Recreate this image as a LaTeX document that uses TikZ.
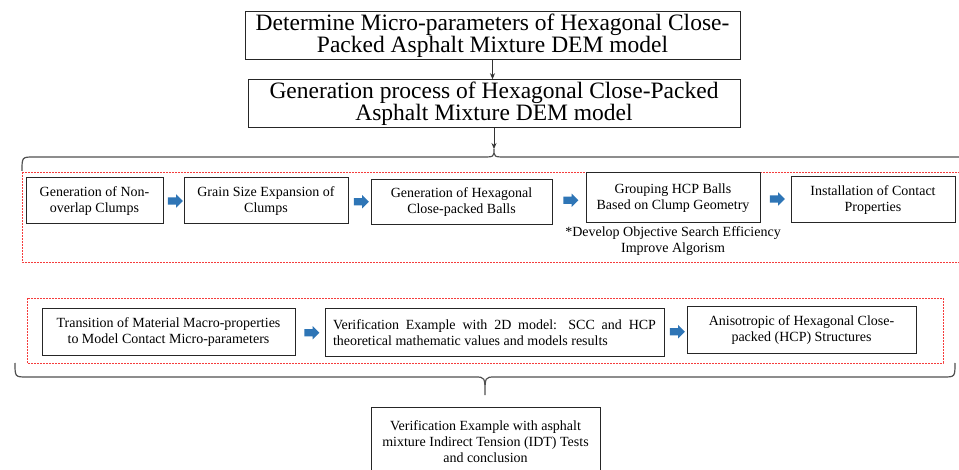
\documentclass[tikz,border=0pt]{standalone}
\usepackage{fontspec}
\setmainfont{Liberation Serif}
\usetikzlibrary{arrows.meta}
\usetikzlibrary{shapes.arrows}
\definecolor{flowblue}{RGB}{46,117,182}
\definecolor{linegray}{RGB}{80,80,80}
\definecolor{framered}{RGB}{245,60,60}
\tikzset{
  bigbox/.style={draw=black!85, line width=1pt, align=center, inner sep=2pt,
    font=\fontsize{23.5}{22}\selectfont},
  box/.style={draw=black!85, line width=1pt, align=center, inner sep=2pt,
    font=\fontsize{14}{16}\selectfont},
  sz/.style 2 args={minimum width=#1pt, minimum height=#2pt},
  blk/.style={single arrow, fill=flowblue, draw=none, minimum height=15pt,
    text width=0pt, text height=0pt, text depth=0pt,
    single arrow head extend=3pt, inner sep=3.5pt},
  reddash/.style={draw=framered, line width=0.9pt, dash pattern=on 1.8pt off 1.2pt},
  bracket/.style={draw=linegray, line width=1.2pt},
  flowline/.style={draw=black!80, line width=0.8pt, -{Stealth[length=6pt,width=5pt]}},
}
\begin{document}
\begin{tikzpicture}[x=1pt,y=-1pt]
  \clip (0,0) rectangle (959,470);
  % top boxes
  \node[bigbox, sz={495}{47}] (T1) at (492.5,35.5)
    {Determine Micro-parameters of Hexagonal Close-\\Packed Asphalt Mixture DEM model};
  \node[bigbox, sz={492}{47}] (T2) at (494,103.5)
    {Generation process of Hexagonal Close-Packed\\Asphalt Mixture DEM model};
  \coordinate (tip1) at (494,149);
  \draw[flowline] (T1.south) -- (T1.south |- T2.north);
  \draw[flowline] (T2.south) -- (tip1);
  % upper brace and frame
  \draw[bracket] (22,171) .. controls (22,157) .. (34,157) -- (482,157)
    .. controls (494,157) .. (tip1) .. controls (494,157) .. (506,157) -- (975,157);
  \draw[reddash] (22,172) rectangle (965,262);
  % first row
  \node[box, sz={137}{46}] (B1) at (94.5,201) {Generation of Non-\\overlap Clumps};
  \node[box, sz={164}{46}] (B2) at (266,201) {Grain Size Expansion of\\Clumps};
  \node[box, sz={181}{45}] (B3) at (461.5,202.5) {Generation of Hexagonal\\Close-packed Balls};
  \node[box, sz={174}{50}] (B4) at (673,198) {Grouping HCP Balls\\Based on Clump Geometry};
  \node[box, sz={164}{46}] (B5) at (873,200) {Installation of Contact\\Properties};
  \node[box, draw=none] (note) at (673,241) {*Develop Objective Search Efficiency\\Improve Algorism};
  \path (B1.east) -- node[blk] {} (B2.west);
  \path (B2.east) -- node[blk] {} (B3.west);
  \path (B3.east) -- node[blk] {} (B4.west);
  \path (B4.east) -- node[blk] {} (B5.west);
  % second row
  \draw[reddash] (27,298) rectangle (943,363);
  \node[box, sz={253}{47}] (C1) at (168.5,332.5)
    {Transition of Material Macro-properties\\to Model Contact Micro-parameters};
  \node[box, sz={339}{48}, align=justify, text width=323pt] (C2) at (494.5,333)
    {Verification Example with 2D model: SCC and HCP\linebreak theoretical mathematic values and models results};
  \node[box, sz={229}{47}] (C3) at (801.5,330.5)
    {Anisotropic of Hexagonal Close-\\packed (HCP) Structures};
  \path (C1.east) -- node[blk] {} (C2.west);
  \path (C2.east) -- node[blk] {} (C3.west);
  % lower brace
  \coordinate (tip2) at (485,395);
  \draw[bracket] (15,363) .. controls (15,377) .. (27,377) -- (475,377)
    .. controls (485,377) .. (tip2) .. controls (485,377) .. (495,377)
    -- (943,377) .. controls (955,377) .. (955,363);
  \node[box, sz={229}{70}] (D) at (485.5,442)
    {Verification Example with asphalt\\mixture Indirect Tension (IDT) Tests\\and conclusion};
\end{tikzpicture}
\end{document}
